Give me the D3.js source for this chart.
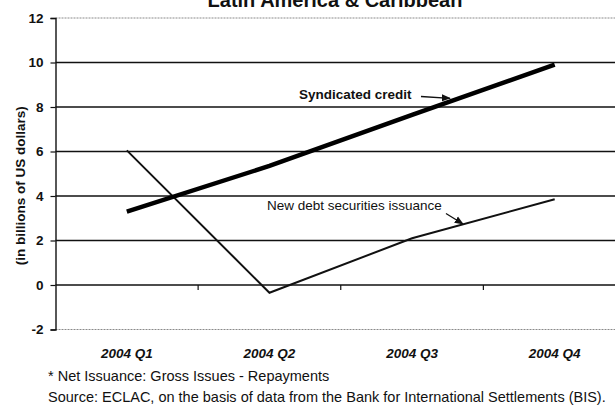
<!DOCTYPE html>
<html>
<head>
<meta charset="utf-8">
<script src="https://cdn.jsdelivr.net/npm/d3@7"></script>
<style>
  html, body { margin: 0; padding: 0; background: #fff; }
  svg { display: block; font-family: "Liberation Sans", Arial, sans-serif; }
</style>
</head>
<body>
<svg id="chart" width="615" height="411"></svg>
<script>
// Quarterly net issuance, Latin America & Caribbean (billions of US dollars)
const quarters = ["2004 Q1", "2004 Q2", "2004 Q3", "2004 Q4"];
const syndicatedCredit = [3.3, 5.35, 7.65, 9.9];
const newDebtSecurities = [6.05, -0.35, 2.1, 3.85];
const yTicks = [-2, 0, 2, 4, 6, 8, 10, 12];

const titleText = "Latin America & Caribbean";
const yAxisLabel = "(in billions of US dollars)";
const footnotes = [
  "* Net Issuance: Gross Issues - Repayments",
  "Source: ECLAC, on the basis of data from the Bank for International Settlements (BIS)."
];

const svg = d3.select("#chart");

const plot = { left: 55.5, right: 626, top: 18, bottom: 329.5 };

const x = d3.scaleBand().domain(quarters).range([plot.left, plot.right]).padding(0);
const y = d3.scaleLinear().domain([-2, 12]).range([plot.bottom, plot.top]);
const xc = d => x(d) + x.bandwidth() / 2;

// Horizontal gridlines; the outer two form the plot frame and print lighter
svg.append("g").selectAll("line")
  .data(yTicks)
  .join("line")
  .attr("x1", plot.left).attr("x2", plot.right)
  .attr("y1", d => y(d)).attr("y2", d => y(d))
  .attr("stroke", d => (d === -2 || d === 12) ? "#8a8a8a" : "#111")
  .attr("stroke-width", d => (d === -2 || d === 12) ? 1 : 1.4)
  .attr("stroke-dasharray", d => (d === -2 || d === 12) ? "2,1" : null);

// Y axis (plain hyphen for negatives)
const yAxis = d3.axisLeft(y).tickValues(yTicks).tickSize(5).tickPadding(7).tickFormat(d => String(d));
const gy = svg.append("g").attr("transform", `translate(${plot.left},0)`).call(yAxis);
gy.select(".domain").attr("stroke", "#111").attr("stroke-width", 1.4);
gy.selectAll(".tick line").attr("stroke", "#111").attr("stroke-width", 1.2);
gy.selectAll(".tick text")
  .attr("font-family", "Liberation Sans, Arial, sans-serif")
  .attr("font-size", 13.5).attr("font-weight", "bold").attr("fill", "#111");

// Category boundary ticks on the zero line
const boundaries = quarters.slice(1).map(q => x(q));
svg.append("g").selectAll("line")
  .data(boundaries)
  .join("line")
  .attr("x1", d => d).attr("x2", d => d)
  .attr("y1", y(0)).attr("y2", y(0) + 5)
  .attr("stroke", "#111").attr("stroke-width", 1.2);

// Category labels below the plot
svg.append("g").selectAll("text")
  .data(quarters)
  .join("text")
  .attr("x", d => xc(d))
  .attr("y", 358)
  .attr("text-anchor", "middle")
  .attr("font-size", 13.5).attr("font-weight", "bold").attr("font-style", "italic")
  .attr("fill", "#111")
  .text(d => d);

// Series lines
const line = d3.line().x((d, i) => xc(quarters[i])).y(d => y(d));

svg.append("path")
  .datum(newDebtSecurities)
  .attr("d", line)
  .attr("fill", "none").attr("stroke", "#111").attr("stroke-width", 2)
  .attr("stroke-linejoin", "miter");

svg.append("path")
  .datum(syndicatedCredit)
  .attr("d", line)
  .attr("fill", "none").attr("stroke", "#000").attr("stroke-width", 4.5)
  .attr("stroke-linecap", "butt");

// Series callouts with arrows
const defs = svg.append("defs");
defs.append("marker")
  .attr("id", "arrow")
  .attr("viewBox", "0 0 10 10")
  .attr("refX", 9).attr("refY", 5)
  .attr("markerWidth", 7).attr("markerHeight", 7)
  .attr("orient", "auto")
  .append("path").attr("d", "M0,1 L10,5 L0,9 Z").attr("fill", "#111");

svg.append("text")
  .attr("x", 299).attr("y", 98.5)
  .attr("font-size", 13.5).attr("font-weight", "bold").attr("fill", "#111")
  .text("Syndicated credit");
svg.append("line")
  .attr("x1", 421).attr("y1", 96.5).attr("x2", 450).attr("y2", 98.3)
  .attr("stroke", "#111").attr("stroke-width", 1.3)
  .attr("marker-end", "url(#arrow)");

svg.append("text")
  .attr("x", 267).attr("y", 209.5)
  .attr("font-size", 13.5).attr("fill", "#111")
  .text("New debt securities issuance");
svg.append("line")
  .attr("x1", 446).attr("y1", 213.5).attr("x2", 463).attr("y2", 224)
  .attr("stroke", "#111").attr("stroke-width", 1.3)
  .attr("marker-end", "url(#arrow)");

// Title (top edge of the page)
svg.append("text")
  .attr("x", 335).attr("y", 6.5)
  .attr("text-anchor", "middle")
  .attr("font-size", 20).attr("font-weight", "bold").attr("fill", "#111")
  .text(titleText);

// Y axis title
svg.append("text")
  .attr("transform", `translate(25,${(plot.top + plot.bottom) / 2 + 12}) rotate(-90)`)
  .attr("text-anchor", "middle")
  .attr("font-size", 13.5).attr("font-weight", "bold").attr("fill", "#111")
  .text(yAxisLabel);

// Notes
svg.append("g").selectAll("text")
  .data(footnotes)
  .join("text")
  .attr("x", 48)
  .attr("y", (d, i) => 381 + i * 21)
  .attr("font-size", 14.5).attr("fill", "#111")
  .text(d => d);
</script>
</body>
</html>
